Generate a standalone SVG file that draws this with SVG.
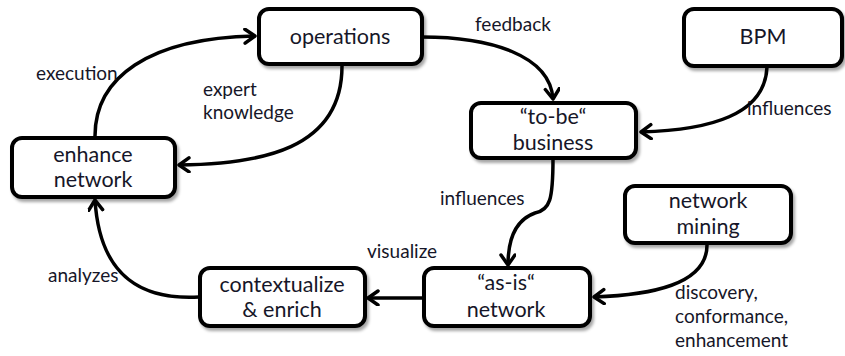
<svg xmlns="http://www.w3.org/2000/svg" width="845" height="356" viewBox="0 0 845 356">
<defs>
<marker id="arr" markerUnits="userSpaceOnUse" markerWidth="20" markerHeight="20" refX="12" refY="8" orient="auto">
<path d="M2,1 L12,8 L2,15" fill="none" stroke="#000" stroke-width="3.5" stroke-linecap="round" stroke-linejoin="round"/>
</marker>
<filter id="sh" x="-10%" y="-10%" width="130%" height="140%">
<feDropShadow dx="2" dy="3" stdDeviation="1.5" flood-color="#000" flood-opacity="0.35"/>
</filter>
</defs>
<style>
.box{fill:#fff;stroke:#000;stroke-width:4;filter:url(#sh)}
.nt{font-family:Lato,"Open Sans",sans-serif;font-size:21.5px;fill:#161628;text-anchor:middle}
.lb{font-family:Lato,"Open Sans",sans-serif;font-size:19px;fill:#161628}
.c{fill:none;stroke:#000;stroke-width:3.5;marker-end:url(#arr)}
</style>
<rect width="845" height="356" fill="#fff"/>
<g id="connectors">
<path class="c" d="M95,136 C95,78 148,38 255,36"/>
<path class="c" d="M342,66 C342,150 260,164 179,165"/>
<path class="c" d="M422,37 C490,37 550,55 553,99"/>
<path class="c" d="M767,67 C765,115 710,130 641,132"/>
<path class="c" d="M553,158 C553,200 550,210 535,213 C515,220 508,240 508,265"/>
<path class="c" d="M707,245 C707,285 650,295 594,297"/>
<path class="c" d="M423,298 L368,298"/>
<path class="c" d="M199,297 C145,300 100,280 95,200"/>
</g>
<g id="operations"><rect class="box" x="259" y="9" width="163" height="55" rx="10"/><text class="nt" x="340" y="44">operations</text></g>
<g id="bpm"><rect class="box" x="684" y="9" width="158" height="57" rx="10"/><text class="nt" x="763" y="44">BPM</text></g>
<g id="to-be"><rect class="box" x="471" y="103" width="165" height="55" rx="10"/><text class="nt" x="553" y="124">“to-be“</text><text class="nt" x="553" y="150">business</text></g>
<g id="enhance"><rect class="box" x="12" y="138" width="163" height="59" rx="10"/><text class="nt" x="93" y="162">enhance</text><text class="nt" x="93" y="187">network</text></g>
<g id="contextualize"><rect class="box" x="200" y="268" width="165" height="58" rx="10"/><text class="nt" x="282" y="292">contextualize</text><text class="nt" x="282" y="317">&amp; enrich</text></g>
<g id="as-is"><rect class="box" x="424" y="268" width="166" height="58" rx="10"/><text class="nt" x="506" y="290">“as-is“</text><text class="nt" x="506" y="317">network</text></g>
<g id="mining"><rect class="box" x="625" y="186" width="166" height="57" rx="10"/><text class="nt" x="708" y="208">network</text><text class="nt" x="708" y="234">mining</text></g>
<g id="labels">
<text class="lb" x="36" y="80">execution</text>
<text class="lb" x="203" y="96">expert</text>
<text class="lb" x="203" y="119">knowledge</text>
<text class="lb" x="475" y="31">feedback</text>
<text class="lb" x="747" y="115">influences</text>
<text class="lb" x="440" y="205">influences</text>
<text class="lb" x="367" y="258">visualize</text>
<text class="lb" x="48" y="282">analyzes</text>
<text class="lb" x="675" y="299">discovery,</text>
<text class="lb" x="675" y="323">conformance,</text>
<text class="lb" x="675" y="347">enhancement</text>
</g>
</svg>
